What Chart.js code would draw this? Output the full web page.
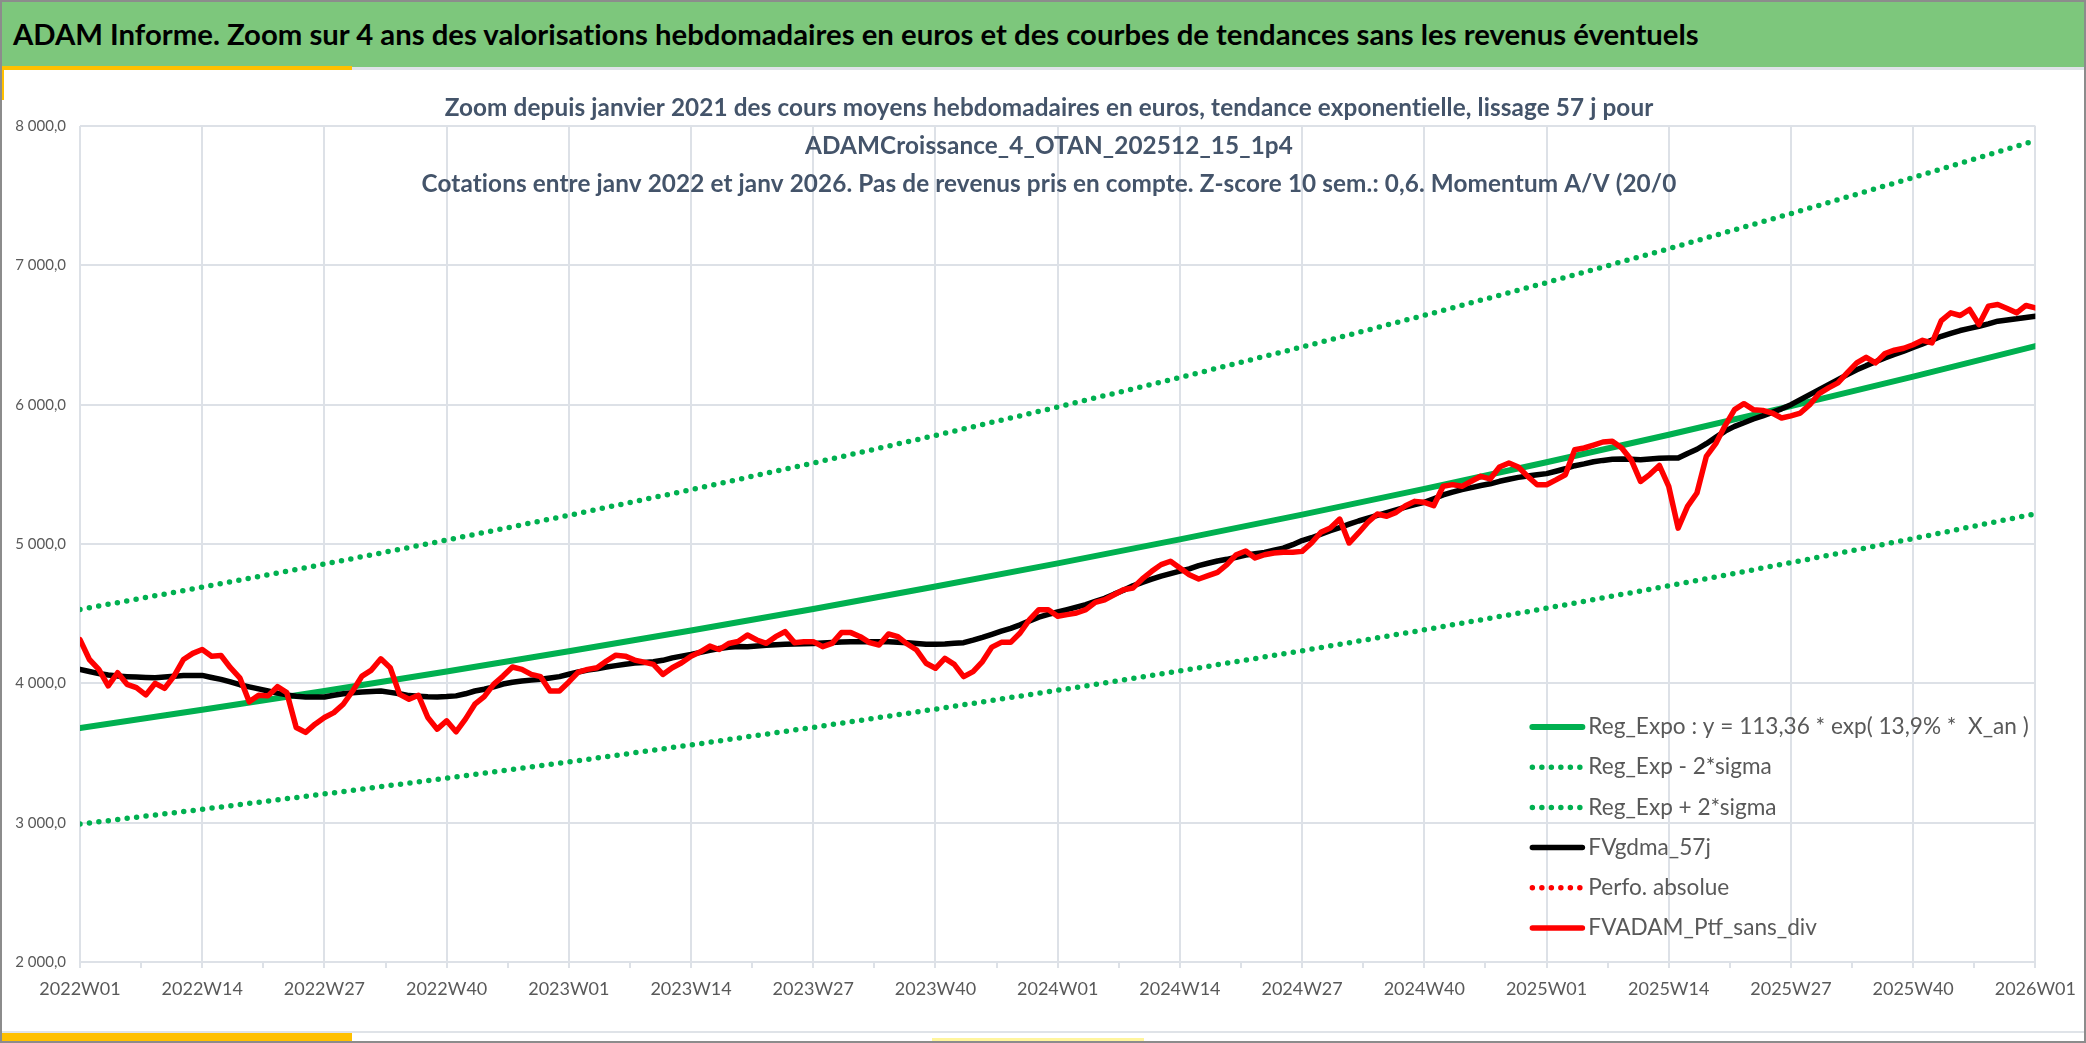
<!DOCTYPE html>
<html lang="fr">
<head>
<meta charset="utf-8">
<title>ADAM Informe</title>
<script src="https://cdn.jsdelivr.net/npm/chart.js@4.4.1/dist/chart.umd.min.js"></script>
<style>
  html, body { margin: 0; padding: 0; background: #fff; }
  body { width: 2086px; height: 1043px; position: relative; overflow: hidden; font-family: Lato, "Noto Sans", sans-serif; }
  #chart-wrap { position: absolute; left: 0; top: 0; width: 2086px; height: 1043px; }
  #header { position: absolute; left: 0; top: 0; width: 2086px; height: 67px; background: #7dc77c; border-bottom: 3px solid #dfe3e8; }
  #header h1 { margin: 0; padding-left: 13px; font: bold 29.3px Lato, sans-serif; font-variant-ligatures: none; line-height: 67px; color: #000; white-space: nowrap; }
  .accent { position: absolute; background: #ffc000; }
  #bottom-line { position: absolute; left: 0; top: 1031px; width: 2086px; height: 2px; background: #dfe3e8; }
  #frame { position: absolute; left: 0; top: 0; width: 2082px; height: 1039px; border: 2px solid #8c8c8c; pointer-events: none; }
</style>
</head>
<body>
<div id="chart-wrap"><canvas id="chart"></canvas></div>
<div id="header"><h1>ADAM Informe. Zoom sur 4 ans des valorisations hebdomadaires en euros et des courbes de tendances sans les revenus éventuels</h1></div>
<div class="accent" style="left:0;top:66px;width:352px;height:4px"></div>
<div class="accent" style="left:0;top:66px;width:4px;height:34px"></div>
<div id="bottom-line"></div>
<div class="accent" style="left:0;top:1033px;width:352px;height:10px"></div>
<div class="accent" style="left:932px;top:1038px;width:212px;height:5px;background:#fff59d"></div>
<div id="frame"></div>

<script>
// week labels 2022W01 .. 2026W01 (2022-2025 all have 52 ISO weeks)
const years = [2022, 2023, 2024, 2025];
const weekLabels = [];
years.forEach(y => {
  for (let w = 1; w <= 52; w++) weekLabels.push(y + 'W' + String(w).padStart(2, '0'));
});
weekLabels.push('2026W01');

const titleLines = [
  'Zoom depuis janvier 2021 des cours moyens hebdomadaires en euros, tendance exponentielle, lissage 57 j pour',
  'ADAMCroissance_4_OTAN_202512_15_1p4',
  'Cotations entre janv 2022 et janv 2026. Pas de revenus pris en compte. Z-score 10 sem.: 0,6. Momentum A/V (20/0'
];

// trend curves, read every 13 weeks (at each x label)
const regExpo = [3680, 3810, 3945, 4085, 4230, 4379, 4534, 4695, 4861, 5033, 5211, 5396, 5587, 5784, 5989, 6201, 6420];
const regMinus2Sigma = [2990, 3096, 3206, 3319, 3436, 3558, 3684, 3815, 3950, 4089, 4234, 4384, 4539, 4700, 4866, 5039, 5217];
const regPlus2Sigma = [4530, 4690, 4856, 5028, 5206, 5390, 5581, 5779, 5983, 6195, 6414, 6641, 6876, 7119, 7371, 7630, 7895];

// weekly values, one row per 13 weeks
const fvgdma57j = [
  4100, 4085, 4070, 4060, 4052, 4048, 4045, 4042, 4040, 4045, 4050, 4057, 4057,
  4057, 4042, 4028, 4010, 3990, 3975, 3960, 3945, 3930, 3917, 3908, 3902, 3902,
  3902, 3915, 3925, 3932, 3938, 3942, 3945, 3935, 3925, 3912, 3908, 3904, 3902,
  3905, 3910, 3925, 3945, 3958, 3975, 3995, 4008, 4017, 4023, 4029, 4038, 4048,
  4065, 4081, 4095, 4105, 4117, 4127, 4137, 4145, 4150, 4155, 4165, 4183, 4195,
  4207, 4222, 4237, 4250, 4258, 4265, 4263, 4268, 4273, 4277, 4280, 4282, 4284,
  4286, 4289, 4293, 4297, 4299, 4299, 4299, 4299, 4298, 4295, 4292, 4286, 4280,
  4280, 4282, 4287, 4292, 4310, 4330, 4352, 4375, 4395, 4420, 4448, 4475, 4495,
  4512, 4529, 4547, 4565, 4588, 4610, 4640, 4668, 4700, 4725, 4748, 4770, 4788,
  4805, 4822, 4845, 4862, 4878, 4890, 4905, 4920, 4930, 4940, 4955, 4970, 4995,
  5025, 5045, 5070, 5095, 5118, 5142, 5165, 5185, 5205, 5225, 5245, 5265, 5283,
  5299, 5325, 5352, 5372, 5390, 5405, 5420, 5432, 5450, 5465, 5478, 5488, 5497,
  5505, 5522, 5540, 5562, 5575, 5590, 5600, 5608, 5610, 5608, 5605, 5610, 5616,
  5617, 5617, 5650, 5680, 5720, 5765, 5810, 5844, 5870, 5897, 5920, 5945, 5970,
  6000, 6036, 6072, 6108, 6144, 6180, 6216, 6250, 6280, 6308, 6336, 6360, 6384,
  6410, 6436, 6463, 6491, 6512, 6532, 6548, 6563, 6580, 6599, 6608, 6616, 6626,
  6635
];

const fvadamPtf = [
  4314, 4171, 4100, 3981, 4076, 3993, 3969, 3917, 4000, 3964, 4052, 4171, 4215,
  4243, 4195, 4200, 4112, 4040, 3867, 3914, 3910, 3976, 3933, 3683, 3648, 3707,
  3755, 3790, 3850, 3945, 4052, 4095, 4176, 4112, 3921, 3886, 3914, 3755, 3671,
  3731, 3652, 3743, 3850, 3905, 3993, 4052, 4117, 4100, 4064, 4048, 3945, 3945,
  4010, 4081, 4100, 4112, 4160, 4202, 4195, 4167, 4152, 4136, 4064, 4112, 4148,
  4195, 4226, 4267, 4243, 4286, 4300, 4347, 4311, 4287, 4335, 4371, 4292, 4299,
  4299, 4263, 4287, 4364, 4364, 4335, 4292, 4275, 4354, 4335, 4282, 4239, 4144,
  4108, 4179, 4136, 4048, 4084, 4156, 4260, 4294, 4294, 4361, 4457, 4529, 4529,
  4481, 4493, 4505, 4529, 4581, 4600, 4636, 4672, 4684, 4749, 4804, 4852, 4876,
  4828, 4780, 4749, 4773, 4797, 4852, 4923, 4950, 4900, 4923, 4935, 4940, 4940,
  4947, 5007, 5084, 5115, 5179, 5007, 5079, 5156, 5215, 5199, 5227, 5275, 5306,
  5299, 5275, 5414, 5426, 5414, 5450, 5486, 5467, 5553, 5581, 5553, 5485, 5425,
  5425, 5460, 5497, 5677, 5689, 5710, 5732, 5737, 5689, 5605, 5449, 5500, 5564,
  5413, 5114, 5270, 5366, 5629, 5720, 5850, 5964, 6007, 5964, 5959, 5940, 5904,
  5920, 5940, 6000, 6080, 6120, 6156, 6230, 6300, 6340, 6300, 6367, 6391, 6405,
  6430, 6462, 6443, 6604, 6659, 6640, 6683, 6575, 6707, 6719, 6690, 6659, 6712,
  6695
];

const GREEN = '#00b050';
const RED = '#ff0000';
const GRID = '#dde1e7';
const TEXT = '#595959';

const every13 = arr => arr.map((v, k) => ({ x: k * 13, y: v }));
const weekly = arr => arr.map((v, i) => ({ x: i, y: v }));

const solid = (label, data, color, order, width) => ({
  label, data, borderColor: color, backgroundColor: color, borderWidth: width,
  pointRadius: 0, tension: 0, borderJoinStyle: 'round', borderCapStyle: 'round', order
});
const dotted = (label, data, color, order) => ({
  ...solid(label, data, color, order, 5.5), borderDash: [0, 9.5]
});

// red on top, then black, then the greens
const datasets = [
  solid('Reg_Expo : y = 113,36 * exp( 13,9% *  X_an )', every13(regExpo), GREEN, 3, 6),
  dotted('Reg_Exp - 2*sigma', every13(regMinus2Sigma), GREEN, 4),
  dotted('Reg_Exp + 2*sigma', every13(regPlus2Sigma), GREEN, 5),
  solid('FVgdma_57j', weekly(fvgdma57j), '#000000', 1, 5.5),
  dotted('Perfo. absolue', [], RED, 2),
  solid('FVADAM_Ptf_sans_div', weekly(fvadamPtf), RED, 0, 5.5)
];

const fmtFr = v => {
  const s = Math.round(v).toString().replace(/\B(?=(\d{3})+(?!\d))/g, ' ');
  return s + ',0';
};

// title lines overlap the plot, so they are drawn by hand
const titlePlugin = {
  id: 'titleLines',
  afterDraw(chart) {
    const ctx = chart.ctx;
    ctx.save();
    ctx.font = 'bold 24.3px Lato, sans-serif';
    ctx.letterSpacing = '0.1px';
    ctx.fillStyle = '#44546a';
    ctx.textAlign = 'center';
    ctx.textBaseline = 'middle';
    titleLines.forEach((t, i) => ctx.fillText(t, 1049, 108 + i * 38));
    ctx.restore();
  }
};

// legend inside the plot, bottom right
const legendPlugin = {
  id: 'insideLegend',
  afterDraw(chart) {
    const ctx = chart.ctx;
    const x0 = chart.chartArea.right - 505;
    const y0 = chart.chartArea.bottom - 235;
    ctx.save();
    ctx.font = '22.6px Lato, sans-serif';
    ctx.textBaseline = 'middle';
    chart.data.datasets.forEach((ds, i) => {
      const y = y0 + i * 40.2;
      ctx.strokeStyle = ds.borderColor;
      ctx.lineWidth = ds.borderWidth;
      ctx.lineCap = 'round';
      ctx.setLineDash(ds.borderDash || []);
      ctx.beginPath();
      ctx.moveTo(x0 + 2, y);
      ctx.lineTo(x0 + 52, y);
      ctx.stroke();
      ctx.setLineDash([]);
      ctx.fillStyle = TEXT;
      ctx.fillText(ds.label, x0 + 58, y);
    });
    ctx.restore();
  }
};

new Chart(document.getElementById('chart'), {
  type: 'line',
  data: { datasets },
  options: {
    responsive: true,
    maintainAspectRatio: false,
    animation: false,
    layout: { padding: { top: 126, right: 44, bottom: 0, left: 0 } },
    plugins: {
      legend: { display: false },
      tooltip: { enabled: false },
      title: { display: false }
    },
    scales: {
      x: {
        type: 'linear',
        min: 0,
        max: 208,
        afterFit: s => { s.height = 81; },
        afterBuildTicks: s => {
          s.ticks = [];
          for (let v = 0; v <= 208; v += 6.5) s.ticks.push({ value: v });
        },
        ticks: {
          autoSkip: false,
          maxRotation: 0,
          padding: 10,
          color: TEXT,
          font: { family: 'Lato', size: 18 },
          callback: v => (v % 13 === 0 ? weekLabels[v] : '')
        },
        grid: {
          color: c => (c.tick && c.tick.value % 13 === 0 ? GRID : 'rgba(0,0,0,0)'),
          tickColor: GRID,
          tickLength: 6,
          lineWidth: 2
        },
        border: { color: GRID, width: 2 }
      },
      y: {
        min: 2000,
        max: 8000,
        afterFit: s => { s.width = 80; },
        ticks: {
          stepSize: 1000,
          padding: 14,
          color: TEXT,
          font: { family: 'Lato', size: 15 },
          callback: v => fmtFr(v)
        },
        grid: { color: GRID, lineWidth: 2, drawTicks: false },
        border: { display: false }
      }
    }
  },
  plugins: [titlePlugin, legendPlugin]
});
</script>
</body>
</html>
